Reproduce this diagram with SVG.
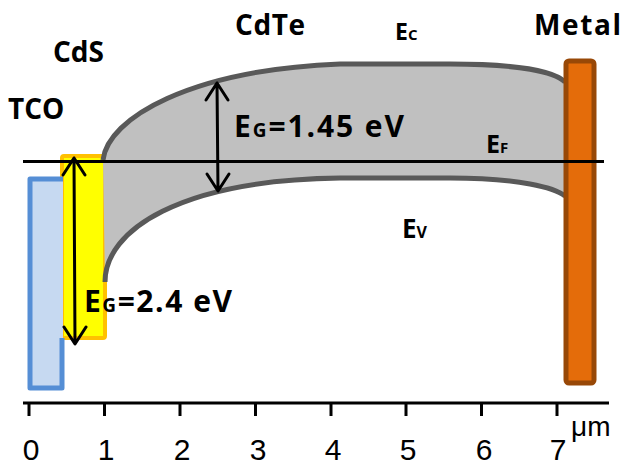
<svg xmlns="http://www.w3.org/2000/svg" width="625" height="467" viewBox="0 0 625 467">
<style>
.lbl{font-family:"Open Sans","Liberation Sans",Arial,sans-serif;font-weight:bold;fill:#000}
.tick{font-family:"Liberation Sans",Arial,sans-serif;font-size:30px;fill:#000;text-anchor:middle}
.arr{stroke:#000;stroke-width:3;fill:none;stroke-linecap:round;stroke-linejoin:round}
</style>
<rect width="625" height="467" fill="#fff"/>
<g id="cds">
<rect x="62" y="156" width="43" height="182" rx="2" fill="#ffff00" stroke="#ffc000" stroke-width="4"/>
</g>
<g id="tco">
<rect x="30" y="179" width="33" height="209" fill="#c6d9f1"/>
<path d="M63,179 H30 V388 H62 V338" fill="none" stroke="#558ed5" stroke-width="5" stroke-linejoin="round"/>
</g>
<g id="cdte">
<path d="M103,160 C108,118 190,70 340,64 L450,64 C520,64 555,72 565,82 L565,196 C555,188 520,178 450,178 L340,178 C180,180 105,230 105,282 Z" fill="#c0c0c0"/>
<path d="M103,160 C108,118 190,70 340,64 L450,64 C520,64 555,72 565,82" fill="none" stroke="#595959" stroke-width="5"/>
<path d="M565,196 C555,188 520,178 450,178 L340,178 C180,180 105,230 105,282" fill="none" stroke="#595959" stroke-width="5"/>
</g>
<g id="metal">
<rect x="566" y="61" width="28" height="322" rx="3" fill="#e46c0a" stroke="#984807" stroke-width="5"/>
</g>
<g id="connectors">
<line x1="23" y1="161.5" x2="604" y2="161.5" stroke="#000" stroke-width="3"/>
<path class="arr" d="M74,158 L75,344 M63,175 L74,158 L85,175 M64,327 L75,344 L86,327"/>
<path class="arr" d="M217,83 L218,191 M206,100 L217,83 L228,100 M207,174 L218,191 L229,174"/>
</g>
<g id="axis">
<path d="M23,403 H609" stroke="#000" stroke-width="3" fill="none"/>
<path d="M29,403 V416 M104.5,403 V416 M180,403 V416 M255.5,403 V416 M331,403 V416 M406,403 V416 M481.5,403 V416 M557,403 V416" stroke="#000" stroke-width="3" fill="none"/>
<text class="tick" x="31" y="460">0</text>
<text class="tick" x="106" y="460">1</text>
<text class="tick" x="182" y="460">2</text>
<text class="tick" x="258" y="460">3</text>
<text class="tick" x="333" y="460">4</text>
<text class="tick" x="408" y="460">5</text>
<text class="tick" x="484" y="460">6</text>
<text class="tick" x="558" y="460">7</text>
<text x="571" y="436" font-family="'Liberation Sans',Arial,sans-serif" font-size="28">μm</text>
</g>
<g id="labels">
<text class="lbl" x="8" y="119" font-size="28">TCO</text>
<text class="lbl" x="53" y="62" font-size="28">CdS</text>
<text class="lbl" x="235" y="35" font-size="28" textLength="70">CdTe</text>
<text class="lbl" x="534" y="35" font-size="28" textLength="87">Metal</text>
<text class="lbl" x="395" y="40" font-size="23">E<tspan font-size="15">C</tspan></text>
<text class="lbl" x="234" y="137" font-size="30" textLength="170">E<tspan font-size="19">G</tspan>=1.45 eV</text>
<text class="lbl" x="486" y="153" font-size="25">E<tspan font-size="15">F</tspan></text>
<text class="lbl" x="402" y="238" font-size="26">E<tspan font-size="16">V</tspan></text>
<text class="lbl" x="84" y="312" font-size="30" textLength="148">E<tspan font-size="19">G</tspan>=2.4 eV</text>
</g>
</svg>
